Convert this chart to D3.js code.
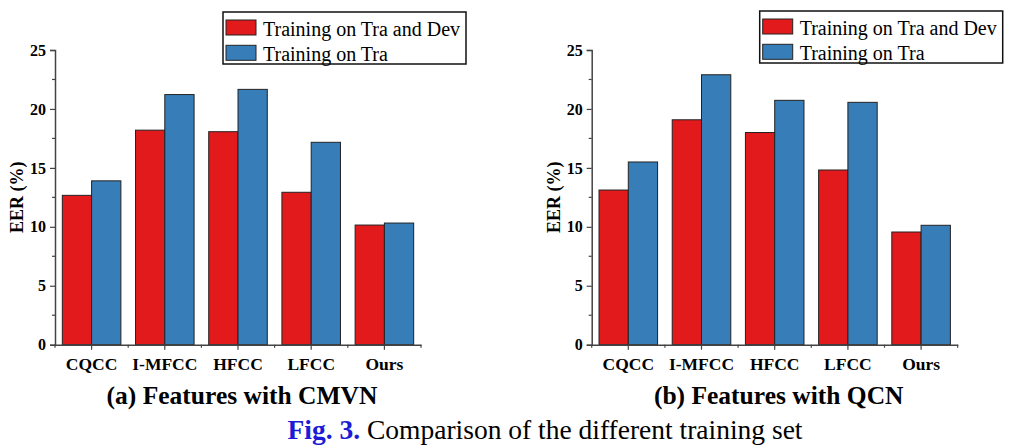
<!DOCTYPE html>
<html>
<head>
<meta charset="utf-8">
<script src="https://cdn.jsdelivr.net/npm/d3@7"></script>
<style>
  html, body { margin: 0; padding: 0; background: #fff; }
  svg { display: block; }
  text { font-family: "Liberation Serif", "Times New Roman", serif; }
</style>
</head>
<body>
<svg id="chart" width="1021" height="448"></svg>
<script>
const categories = ["CQCC", "I-MFCC", "HFCC", "LFCC", "Ours"];
const seriesNames = ["Training on Tra and Dev", "Training on Tra"];
const cmvnTraDev = [12.67, 18.2, 18.07, 12.93, 10.15];
const cmvnTra    = [13.9, 21.22, 21.66, 17.17, 10.32];
const qcnTraDev  = [13.12, 19.08, 18.0, 14.82, 9.56];
const qcnTra     = [15.5, 22.9, 20.73, 20.56, 10.13];
const yTicks = [0, 5, 10, 15, 20, 25];
const yMinorTicks = [2.5, 7.5, 12.5, 17.5, 22.5];
const subtitles = ["(a) Features with CMVN", "(b) Features with QCN"];
const captionLabel = "Fig. 3.";
const captionText = " Comparison of the different training set";
const yLabel = "EER (%)";

const colors = ["#e31a1c", "#377eb8"];
const svg = d3.select("#chart");

function drawPanel(x0, legendDy, seriesA, seriesB, subtitle) {
  const g = svg.append("g");
  const x = d3.scaleBand().domain(categories).range([x0, x0 + 366]).paddingInner(0.2).paddingOuter(0.1);
  const xs = d3.scaleBand().domain([0, 1]).range([0, x.bandwidth()]);
  const y = d3.scaleLinear().domain([0, 25]).range([344.7, 50]);

  const rows = categories.map((c, i) => ({ c, v: [seriesA[i], seriesB[i]] }));
  const grp = g.selectAll("g.grp").data(rows).join("g").attr("transform", d => `translate(${x(d.c)},0)`);
  grp.selectAll("rect").data(d => d.v.map((v, k) => ({ v, k }))).join("rect")
    .attr("x", d => xs(d.k))
    .attr("y", d => y(d.v))
    .attr("width", xs.bandwidth())
    .attr("height", d => y(0) - y(d.v))
    .attr("fill", d => colors[d.k])
    .attr("stroke", "#222")
    .attr("stroke-width", 1);

  const axisColor = "#444";
  // y axis
  const yAx = g.append("g").attr("transform", `translate(${x0},0)`)
    .call(d3.axisLeft(y).tickValues(yTicks).tickSize(5).tickPadding(4).tickFormat(d3.format("d")));
  yAx.select(".domain").attr("stroke", axisColor).attr("stroke-width", 1.5);
  yAx.selectAll(".tick line").attr("stroke", axisColor).attr("stroke-width", 1.2);
  yAx.selectAll(".tick text").attr("font-family", "Liberation Serif").attr("font-weight", "bold").attr("font-size", 16).attr("fill", "#000");
  g.append("g").selectAll("line").data(yMinorTicks).join("line")
    .attr("x1", x0 - 3).attr("x2", x0).attr("y1", d => y(d)).attr("y2", d => y(d))
    .attr("stroke", axisColor).attr("stroke-width", 1.2);

  // x axis
  const xAx = g.append("g").attr("transform", `translate(0,${y(0)})`)
    .call(d3.axisBottom(x).tickSize(5).tickSizeOuter(0).tickPadding(8));
  xAx.select(".domain").attr("stroke", axisColor).attr("stroke-width", 1.5);
  xAx.selectAll(".tick line").attr("stroke", axisColor).attr("stroke-width", 1.2);
  xAx.selectAll(".tick text").attr("font-family", "Liberation Serif").attr("font-weight", "bold").attr("font-size", 17.5).attr("fill", "#000");
  const bounds = d3.range(categories.length + 1).map(i => x0 + i * x.step());
  g.append("g").selectAll("line").data(bounds).join("line")
    .attr("x1", d => d).attr("x2", d => d).attr("y1", y(0)).attr("y2", y(0) + 3)
    .attr("stroke", axisColor).attr("stroke-width", 1.2);

  // y label
  g.append("text")
    .attr("transform", `translate(${x0 - 32},${(y(0) + y(25)) / 2}) rotate(-90)`)
    .attr("text-anchor", "middle")
    .attr("font-weight", "bold").attr("font-size", 18)
    .text(yLabel);

  // legend
  const lx = x0 + 168, ly = 12 + legendDy;
  const lg = g.append("g");
  lg.append("rect").attr("x", lx).attr("y", ly).attr("width", 243).attr("height", 52)
    .attr("fill", "#fff").attr("stroke", "#111").attr("stroke-width", 1.5);
  seriesNames.forEach((name, k) => {
    lg.append("rect").attr("x", lx + 3).attr("y", ly + 8 + k * 25.3).attr("width", 30).attr("height", 15)
      .attr("fill", colors[k]).attr("stroke", "#222").attr("stroke-width", 1);
    lg.append("text").attr("x", lx + 40).attr("y", ly + 24 + k * 25.3)
      .attr("font-size", 20).attr("fill", "#000").text(name);
  });

  // subtitle
  g.append("text").attr("x", x0 + 187).attr("y", 404).attr("text-anchor", "middle")
    .attr("font-weight", "bold").attr("font-size", 25.5).attr("fill", "#000").text(subtitle);
}

drawPanel(55, 0, cmvnTraDev, cmvnTra, subtitles[0]);
drawPanel(591.7, -1, qcnTraDev, qcnTra, subtitles[1]);

const cap = svg.append("text").attr("x", 545).attr("y", 439).attr("text-anchor", "middle").attr("font-size", 27.5);
cap.append("tspan").attr("font-weight", "bold").attr("fill", "#1c1cd6").text(captionLabel);
cap.append("tspan").attr("fill", "#000").text(captionText);
</script>
</body>
</html>
